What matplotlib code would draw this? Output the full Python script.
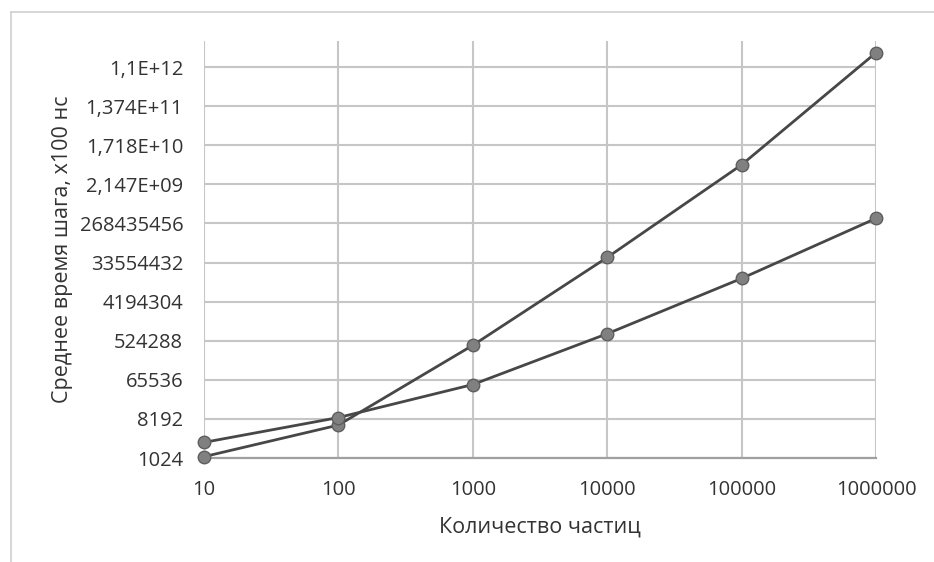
import matplotlib
matplotlib.use("Agg")
import matplotlib.pyplot as plt
from matplotlib.lines import Line2D

plt.rcParams['font.family'] = ['Open Sans', 'DejaVu Sans']

# data
particles = [10, 100, 1000, 10000, 100000, 1000000]
series_a = [1100, 5900, 411000, 44000000, 6.07e9, 2.36e12]
series_b = [2350, 8800, 51000, 760000, 14400000, 351000000]

y_ticks = [2 ** k for k in range(10, 41, 3)]
y_labels = ["1024", "8192", "65536", "524288", "4194304", "33554432",
            "268435456", "2,147E+09", "1,718E+10", "1,374E+11", "1,1E+12"]
x_labels = ["10", "100", "1000", "10000", "100000", "1000000"]

fig = plt.figure(figsize=(9.34, 5.62), dpi=100)
ax = fig.add_axes([204 / 934, 1 - 458 / 562, 672 / 934, 417 / 562])

for ys in (series_a, series_b):
    ax.plot(particles, ys, color='#474747', lw=2.0, marker='o', ms=9,
            markerfacecolor='#808080', markeredgecolor='#5e5e5e', mew=1, zorder=3,
            clip_on=False)

ax.set_xscale('log')
ax.set_yscale('log', base=2)
ax.set_xlim(10, 1000000)
ax.set_ylim(2 ** 10, 2 ** 42)
ax.set_xticks(particles)
ax.set_xticklabels(x_labels)
ax.set_yticks(y_ticks)
ax.set_yticklabels(y_labels)
ax.minorticks_off()
ax.tick_params(length=0, labelsize=14.5, colors='#333333')
ax.tick_params(axis='y', pad=15)
ax.tick_params(axis='x', pad=15.5)
ax.grid(True, color='#c6c6c6', lw=1.5)
for s in ['top', 'right', 'left']:
    ax.spines[s].set_visible(False)
ax.spines['bottom'].set_color('#a0a0a0')
ax.spines['bottom'].set_linewidth(1.6)

ax.set_xlabel("Количество частиц", fontsize=15.5, color='#333333', labelpad=12)
ax.set_ylabel("Среднее время шага, х100 нс", fontsize=15.5, color='#333333', labelpad=5)

# outer chart border
fig.add_artist(Line2D([11 / 934, 1], [1 - 12 / 562] * 2, color='#d0d0d0', lw=1.2))
fig.add_artist(Line2D([11 / 934] * 2, [0, 1 - 12 / 562], color='#d0d0d0', lw=1.2))

fig.savefig("out.png", dpi=100)
